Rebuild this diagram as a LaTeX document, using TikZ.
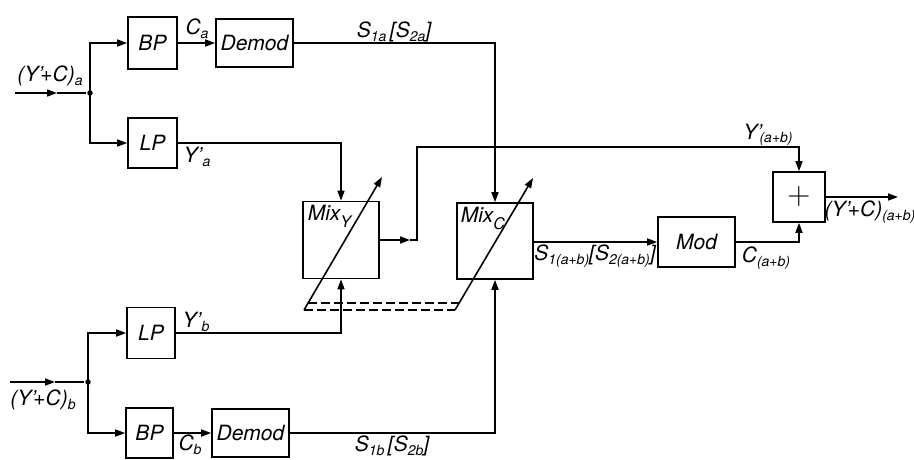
\documentclass[tikz,border=0pt]{standalone}
\usepackage{fontspec}
\setsansfont{TeX Gyre Heros}
\usetikzlibrary{arrows.meta}
\newcommand{\lo}[1]{\raisebox{-3.5pt}{\fontsize{14}{14}\selectfont #1}}
\newcommand{\llo}[1]{\raisebox{-7pt}{\fontsize{16}{16}\selectfont #1}}
\newcommand{\pr}{'\kern-2.5pt}
\newcommand{\prs}{'\kern0.5pt}
\begin{document}
\begin{tikzpicture}[x=1pt,y=-1pt,
  font=\sffamily\itshape\fontsize{21}{23}\selectfont,
  line width=1.6pt,
  >={Triangle[length=10pt,width=7pt]},
  blk/.style={draw,line width=1.6pt,inner sep=1pt},
  lbl/.style={inner sep=0pt},
  dot/.style={circle,fill,inner sep=0pt,minimum size=5.5pt},
  link/.style={dashed,dash pattern=on 9pt off 4pt,line width=1.5pt}]
\useasboundingbox (0,0) rectangle (914,459);
% blocks
\node[blk,minimum width=49pt,minimum height=52pt] (bpa) at (152.5,43) {BP};
\node[blk,minimum width=77pt,minimum height=48pt] (dema) at (254.5,43) {Demod};
\node[blk,minimum width=49pt,minimum height=50pt] (lpa) at (152.5,143) {LP};
\node[blk,minimum width=48pt,minimum height=51pt] (lpb) at (151,333) {LP};
\node[blk,minimum width=47pt,minimum height=50pt] (bpb) at (149.5,433) {BP};
\node[blk,minimum width=77pt,minimum height=48pt] (demb) at (250.5,433) {Demod};
\node[blk,minimum width=76pt,minimum height=77pt] (mixy) at (341,240) {};
\node[blk,minimum width=76pt,minimum height=76pt] (mixc) at (495,241) {};
\node[blk,minimum width=77pt,minimum height=50pt] (mod) at (696.5,242) {Mod};
\node[blk,minimum width=52pt,minimum height=50pt,font=\fontsize{32}{32}\selectfont] (plus) at (799,197) {+};
% box labels
\node[lbl,anchor=north west] (mixyl) at (307,204) {Mix\llo{Y}};
\node[lbl,anchor=north west] (mixcl) at (460,206) {Mix\llo{C}};
% junctions
\node[dot] (ja) at (90,93) {};
\node[dot] (jb) at (88,382) {};
\coordinate (ina) at (15,93);
\coordinate (ma) at (57,93);
\coordinate (inb) at (10,382);
\coordinate (mb) at (55,382);
% inputs
\draw[->] (ina) -- (ma);
\draw (ma) -- (ja);
\draw[->] (inb) -- (mb);
\draw (mb) -- (jb);
\draw[->] (ja.center) |- (bpa.west);
\draw[->] (ja.center) |- (lpa.west);
\draw[->] (jb.center) |- (lpb.west);
\draw[->] (jb.center) |- (bpb.west);
\draw[->] (bpa) -- (dema);
\draw[->] (bpb) -- (demb);
\draw[->] (dema.east) -| (mixc.north);
\draw[->] (lpa.east) -| (mixy.north);
\draw[->] (lpb.east) -| (mixy.south);
\draw[->] (demb.east) -| (mixc.south);
% MixY output to adder
\coordinate (my1) at (410,240);
\coordinate (my2) at (417,147);
\draw[->] (mixy.east) -- (my1);
\draw[->] (my1) -- (my1 -| my2) -- (my2) -| (plus.north);
\draw[->] (mixc.east |- mod.west) -- (mod.west);
\draw[->] (mod.east) -| (plus.south);
\coordinate (out) at (898,197);
\draw[->] (plus.east) -- (out);
% variable coupling
\coordinate (dy0) at (304,310);
\coordinate (dy1) at (382,177);
\coordinate (dc0) at (455,310);
\coordinate (dc1) at (533,178);
\coordinate (uy) at (308.1,303);
\coordinate (uc) at (459.1,303);
\draw[->] (dy0) -- (dy1);
\draw[->] (dc0) -- (dc1);
\draw[link] (uy) -- (uc);
\draw[link] (dy0) -- (dc0);
% signal labels
\node[lbl] (lina) at (50,76) {(Y\pr{}+C)\lo{a}};
\node[lbl] (lca) at (197,29) {C\lo{a}};
\node[lbl] (lya) at (197,157) {Y\prs\lo{a}};
\node[lbl] (lsa) at (394,32) {S\lo{1a}\,[S\lo{2a}]};
\node[lbl] (lyb) at (196,322) {Y\prs\lo{b}};
\node[lbl] (linb) at (43,400) {(Y\pr{}+C)\lo{b}};
\node[lbl] (lcb) at (190,445) {C\lo{b}};
\node[lbl] (lsb) at (392,446) {S\lo{1b}\,[S\lo{2b}]};
\node[lbl] (lsab) at (595,256) {S\lo{1(a+b)}[S\lo{2(a+b)}]};
\node[lbl] (lcab) at (766,258) {C\lo{(a+b)}};
\node[lbl] (lyab) at (768,135) {Y\pr\lo{(a+b)}};
\node[lbl] (lout) at (870,212) {(Y\pr{}+C)\lo{(a+b)}};
\end{tikzpicture}
\end{document}
